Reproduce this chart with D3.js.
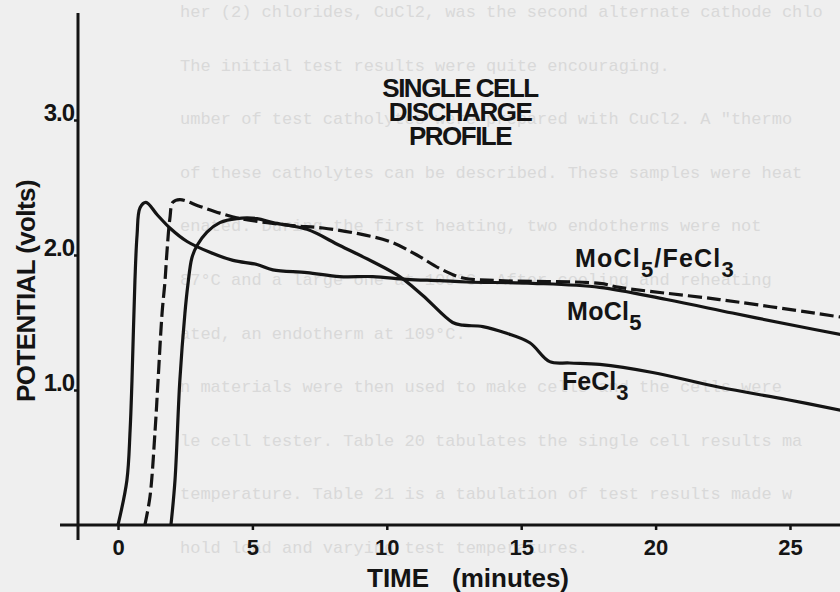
<!DOCTYPE html>
<html>
<head>
<meta charset="utf-8">
<script src="https://cdn.jsdelivr.net/npm/d3@7"></script>
<style>
  body { margin: 0; background: #efefef; }
  svg { display: block; }
</style>
</head>
<body>
<svg width="840" height="592"></svg>
<script>
// time in minutes, potential in volts
var moTime = [0, 0.33, 0.45, 0.52, 0.63, 0.71, 0.82, 1.04, 1.45, 1.93, 2.57, 3.42, 4.28, 5.17, 5.76, 7.03, 8.25, 9.48, 10.74, 11.97, 12.97, 15.43, 17.92, 20.41, 22.86, 25.35, 26.9];
var moVolts = [0, 0.33, 0.70, 1.07, 1.81, 2.15, 2.35, 2.39, 2.30, 2.20, 2.10, 2.02, 1.96, 1.93, 1.89, 1.87, 1.84, 1.84, 1.82, 1.81, 1.80, 1.79, 1.76, 1.67, 1.57, 1.47, 1.41];

var mixTime = [1.0, 1.19, 1.38, 1.49, 1.64, 1.75, 1.82, 1.93, 2.04, 2.30, 3.05, 3.79, 4.54, 6.39, 7.62, 8.88, 10.11, 11.12, 11.97, 12.83, 14.2, 17.92, 18.66, 22.38, 26.9];
var mixVolts = [0, 0.21, 0.70, 1.07, 1.57, 1.81, 2.02, 2.27, 2.39, 2.41, 2.36, 2.31, 2.27, 2.22, 2.20, 2.16, 2.10, 2.00, 1.90, 1.83, 1.81, 1.79, 1.76, 1.67, 1.54];

var feTime = [1.97, 2.12, 2.30, 2.49, 2.60, 2.75, 2.94, 3.31, 3.79, 4.42, 5.17, 5.76, 7.03, 8.25, 9.48, 10.48, 11.34, 12.45, 12.83, 13.57, 14.46, 15.32, 16.06, 16.8, 17.92, 19.89, 22.38, 24.87, 26.9];
var feVolts = [0, 0.33, 1.07, 1.57, 1.78, 1.98, 2.07, 2.17, 2.24, 2.27, 2.27, 2.24, 2.19, 2.07, 1.95, 1.84, 1.70, 1.50, 1.48, 1.47, 1.42, 1.35, 1.21, 1.20, 1.19, 1.13, 1.02, 0.93, 0.85];

var xTicks = [0, 5, 10, 15, 20, 25];
var yTicks = [1, 2, 3];
var titleLines = ["SINGLE CELL", "DISCHARGE", "PROFILE"];

// faint type showing through from the other side of the page
var bleedLines = [
  "her (2) chlorides, CuCl2, was the second alternate cathode chlo",
  "The initial test results were quite encouraging.",
  "umber of test catholytes were prepared with CuCl2. A \"thermo",
  "of these catholytes can be described. These samples were heat",
  "enated. During the first heating, two endotherms were not",
  "87°C and a large one at 109°C. After cooling and reheating",
  "ated, an endotherm at 109°C.",
  "n materials were then used to make cells and the cells were",
  "le cell tester. Table 20 tabulates the single cell results ma",
  "temperature. Table 21 is a tabulation of test results made w",
  "hold load and varying test temperatures."
];

var ink = "#141414";
var font = "'Liberation Sans', Arial, Helvetica, sans-serif";

var svg = d3.select("svg");

svg.append("g")
  .selectAll("text")
  .data(bleedLines)
  .enter()
  .append("text")
  .attr("x", 180)
  .attr("y", function(d, i) { return 17 + i * 53.6; })
  .attr("font-family", "'Liberation Mono', 'DejaVu Sans Mono', monospace")
  .attr("font-size", 17)
  .attr("fill", "#d9d9d9")
  .text(function(d) { return d; });

var x = d3.scaleLinear().domain([0, 25]).range([118, 790]);
var y = d3.scaleLinear().domain([0, 3]).range([525, 120]);

// axes
svg.append("line")
  .attr("x1", 60).attr("x2", 840)
  .attr("y1", y(0)).attr("y2", y(0))
  .attr("stroke", ink).attr("stroke-width", 3);

svg.append("line")
  .attr("x1", 78).attr("x2", 78)
  .attr("y1", 13).attr("y2", 540)
  .attr("stroke", ink).attr("stroke-width", 3);

var xAxis = svg.append("g")
  .attr("transform", "translate(0," + y(0) + ")")
  .call(d3.axisBottom(x).tickValues(xTicks).tickSize(5).tickFormat(d3.format("d")));
xAxis.select(".domain").remove();
xAxis.selectAll("line").attr("stroke", ink).attr("stroke-width", 2.5);
xAxis.selectAll("text")
  .attr("y", 30).attr("dy", 0)
  .attr("fill", ink)
  .attr("font-family", font).attr("font-weight", "bold").attr("font-size", 22);

var yAxis = svg.append("g")
  .attr("transform", "translate(78,0)")
  .call(d3.axisLeft(y).tickValues(yTicks).tickSize(4).tickFormat(d3.format(".1f")));
yAxis.select(".domain").remove();
yAxis.selectAll("line").attr("stroke", ink).attr("stroke-width", 2.5);
yAxis.selectAll("text")
  .attr("x", -4).attr("dy", 0)
  .attr("fill", ink)
  .attr("font-family", font).attr("font-weight", "bold").attr("font-size", 24)
  .attr("letter-spacing", -1);

// curves
var line = d3.line()
  .x(function(d) { return x(d[0]); })
  .y(function(d) { return y(d[1]); })
  .curve(d3.curveCatmullRom.alpha(0.5));

var series = [
  {t: moTime, v: moVolts, dash: null},
  {t: mixTime, v: mixVolts, dash: "14,5"},
  {t: feTime, v: feVolts, dash: null}
];

svg.append("defs").append("clipPath").attr("id", "plot")
  .append("rect").attr("x", 0).attr("y", 0).attr("width", 840).attr("height", 526);

svg.append("g")
  .attr("clip-path", "url(#plot)")
  .selectAll("path")
  .data(series)
  .enter()
  .append("path")
  .attr("d", function(s) { return line(d3.zip(s.t, s.v)); })
  .attr("fill", "none")
  .attr("stroke", ink)
  .attr("stroke-width", 3.2)
  .attr("stroke-dasharray", function(s) { return s.dash; });

// title
svg.append("text")
  .attr("text-anchor", "middle")
  .attr("font-family", font).attr("font-weight", "bold").attr("font-size", 26)
  .attr("letter-spacing", -1.5)
  .attr("fill", ink)
  .selectAll("tspan")
  .data(titleLines)
  .enter()
  .append("tspan")
  .attr("x", 460)
  .attr("y", function(d, i) { return 97 + i * 24; })
  .text(function(d) { return d; });

// axis titles
var xTitle = svg.append("text")
  .attr("y", 587)
  .attr("font-family", font).attr("font-weight", "bold").attr("font-size", 26)
  .attr("fill", ink);
xTitle.append("tspan").attr("x", 367).text("TIME");
xTitle.append("tspan").attr("x", 452).text("(minutes)");

svg.append("text")
  .attr("transform", "translate(35,291) rotate(-90)")
  .attr("text-anchor", "middle")
  .attr("font-family", font).attr("font-weight", "bold").attr("font-size", 26)
  .attr("letter-spacing", -0.6)
  .attr("fill", ink)
  .text("POTENTIAL (volts)");

// curve labels with subscripts
function chem(g, xp, yp, spacing, parts) {
  var t = g.append("text")
    .attr("x", xp).attr("y", yp)
    .attr("font-family", font).attr("font-weight", "bold").attr("font-size", 25)
    .attr("letter-spacing", spacing)
    .attr("fill", ink);
  parts.forEach(function(p) {
    t.append("tspan")
      .attr("dy", p[1])
      .attr("font-size", p[1] > 0 ? 22 : 25)
      .text(p[0]);
  });
}
var labels = svg.append("g");
chem(labels, 575, 267, 1.2, [["MoCl", 0], ["5", 10], ["/FeCl", -10], ["3", 10]]);
chem(labels, 567, 320, 0.3, [["MoCl", 0], ["5", 10]]);
chem(labels, 562, 390, 0, [["FeCl", 0], ["3", 10]]);
</script>
</body>
</html>
